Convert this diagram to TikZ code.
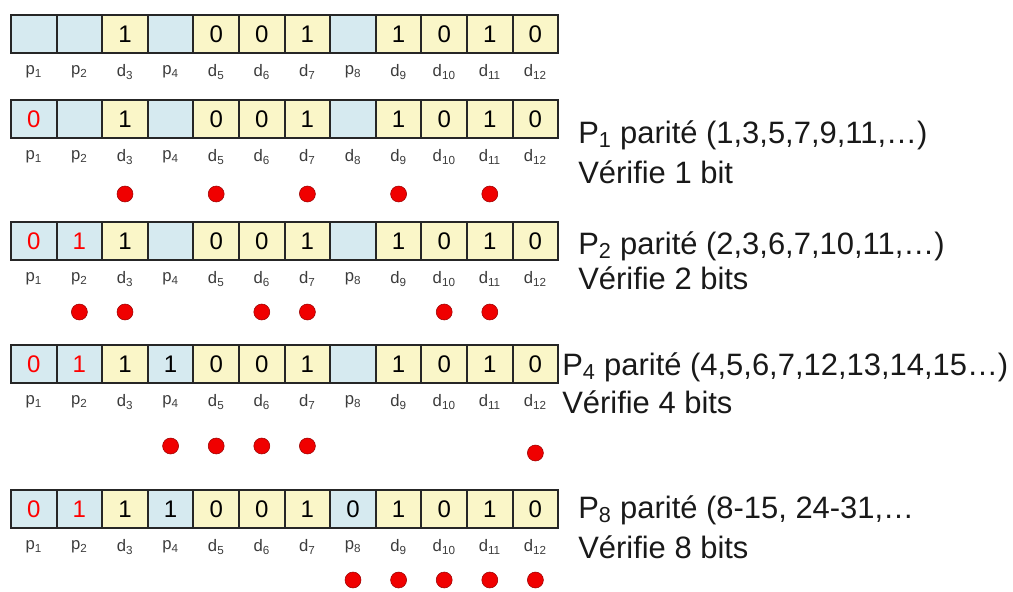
\documentclass[tikz,border=0pt]{standalone}
\usepackage{fontspec}
\setmainfont{Liberation Sans}
\definecolor{pblue}{RGB}{214,234,240}
\definecolor{dyellow}{RGB}{250,246,200}
\definecolor{labgray}{RGB}{60,60,60}
\definecolor{dotred}{RGB}{240,0,0}
\tikzset{
  cell/.style={draw=black!85, line width=1.4pt, minimum width=34.2pt, minimum height=28.5pt,
               inner sep=0pt, font=\fontsize{18}{18}\selectfont},
  pc/.style={cell, fill=pblue},
  pr/.style={cell, fill=pblue, text=red},
  dc/.style={cell, fill=dyellow},
  lab/.style={inner sep=0pt, text=labgray, font=\fontsize{12.5}{13}\selectfont},
  dot/.style={circle, fill=dotred, draw=red!60!black, line width=0.4pt, minimum size=12pt, inner sep=0pt},
  note/.style={anchor=base west, inner sep=0pt, text=black!90, font=\fontsize{23.2}{24}\selectfont}
}
% one row of twelve bits with its position labels
\newcommand\bitrow[4]{%
  \foreach [count=\i] \s/\v in {#3} {
    \node[\s] (c#1-\i) at ({11+45.6*(\i-0.5)}, {#2+19}) {\v};
  }
  \foreach [count=\i] \l in {#4} {
    \node[lab] (l#1-\i) at ({11+45.6*(\i-0.5)}, {#2+57}) {\l\textsubscript{\i}};
  }
}
% red markers under the checked positions
\newcommand\checkdots[2]{%
  \foreach \i/\y in {#2} {
    \node[dot] (o#1-\i) at ({11+45.6*(\i-0.5)}, \y) {};
  }
}
\begin{document}
\begin{tikzpicture}[x=0.75pt, y=-0.75pt]
\useasboundingbox (0,0) rectangle (1013,592);

\bitrow{1}{15}{pc/{},pc/{},dc/1,pc/{},dc/0,dc/0,dc/1,pc/{},dc/1,dc/0,dc/1,dc/0}{p,p,d,p,d,d,d,p,d,d,d,d}

\bitrow{2}{100}{pr/0,pc/{},dc/1,pc/{},dc/0,dc/0,dc/1,pc/{},dc/1,dc/0,dc/1,dc/0}{p,p,d,p,d,d,d,d,d,d,d,d}
\checkdots{2}{3/194,5/194,7/194,9/194,11/194}
\node[note] (t2a) at (578,143) {P\textsubscript{1} parité (1,3,5,7,9,11,…)};
\node[note] (t2b) at (578,183) {Vérifie 1 bit};

\bitrow{3}{222}{pr/0,pr/1,dc/1,pc/{},dc/0,dc/0,dc/1,pc/{},dc/1,dc/0,dc/1,dc/0}{p,p,d,p,d,d,d,p,d,d,d,d}
\checkdots{3}{2/312,3/312,6/312,7/312,10/312,11/312}
\node[note] (t3a) at (578,254) {P\textsubscript{2} parité (2,3,6,7,10,11,…)};
\node[note] (t3b) at (578,289) {Vérifie 2 bits};

\bitrow{4}{345}{pr/0,pr/1,dc/1,pc/1,dc/0,dc/0,dc/1,pc/{},dc/1,dc/0,dc/1,dc/0}{p,p,d,p,d,d,d,p,d,d,d,d}
\checkdots{4}{4/446,5/446,6/446,7/446,12/453}
\node[note] (t4a) at (562,375) {P\textsubscript{4} parité (4,5,6,7,12,13,14,15…)};
\node[note] (t4b) at (562,413) {Vérifie 4 bits};

\bitrow{5}{490}{pr/0,pr/1,dc/1,pc/1,dc/0,dc/0,dc/1,pc/0,dc/1,dc/0,dc/1,dc/0}{p,p,d,p,d,d,d,p,d,d,d,d}
\checkdots{5}{8/580,9/580,10/580,11/580,12/580}
\node[note] (t5a) at (578,518) {P\textsubscript{8} parité (8-15, 24-31,…};
\node[note] (t5b) at (578,558) {Vérifie 8 bits};
\end{tikzpicture}
\end{document}
